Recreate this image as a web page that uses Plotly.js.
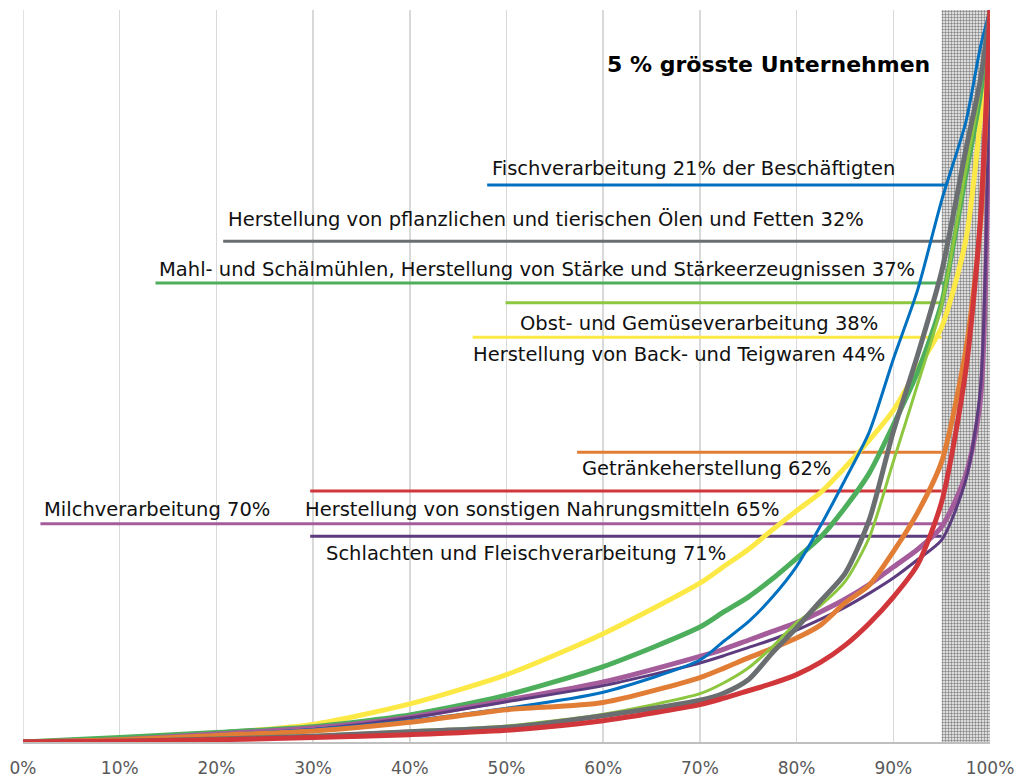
<!DOCTYPE html>
<html>
<head>
<meta charset="utf-8">
<script src="https://cdn.plot.ly/plotly-3.0.1.min.js"></script>
<style>
  html, body { margin: 0; padding: 0; background: #ffffff; }
  #chart { width: 1021px; height: 778px; }
</style>
</head>
<body>
<div id="chart"></div>
<script>
// ---------- DATA ----------
// cumulative share of firms (%), sorted from smallest to largest
const shareOfFirms = [0, 10, 20, 30, 40, 50, 60, 70, 72.5, 75, 77.5, 80, 82.5, 85, 87.5, 90, 92.5, 95, 97.5, 99, 100];

// cumulative share of employees (%) per branch
const fischverarbeitung = [0, 0.3, 1.0, 1.7, 2.9, 4.6, 6.8, 11.2, 13.8, 16.4, 19.8, 24.0, 29.6, 35.8, 42.3, 52.3, 61.7, 74.0, 84.7, 94.9, 100];
const oeleFette        = [0, 0.1, 0.4, 0.8, 1.4, 2.0, 3.6, 5.7, 6.7, 8.5, 12.2, 15.6, 19.3, 23.0, 30.3, 42.4, 52.8, 64.3, 80.9, 90.4, 100];
const mahlSchaelmuehlen = [0, 0.6, 1.3, 2.1, 3.7, 6.4, 10.3, 15.7, 17.8, 19.8, 22.3, 25.1, 28.0, 32.0, 36.7, 43.3, 50.5, 60.0, 77.5, 88.4, 100];
const obstGemuese      = [0, 0.2, 0.5, 0.9, 1.5, 2.2, 3.8, 6.6, 8.1, 10.1, 13.0, 16.3, 18.7, 21.9, 27.9, 38.3, 48.8, 59.7, 78.1, 89.3, 100];
const backTeigwaren    = [0, 0.4, 1.2, 2.4, 5.2, 9.2, 14.8, 21.7, 24.0, 26.3, 29.0, 31.6, 34.1, 37.5, 41.2, 45.3, 51.0, 56.7, 68.6, 85.0, 100];
const getraenke        = [0, 0.3, 0.9, 1.5, 2.7, 4.4, 5.4, 8.8, 10.1, 11.5, 12.8, 14.2, 16.0, 19.0, 21.4, 26.0, 31.3, 38.3, 53.6, 70.6, 100];
const sonstigeNahrung  = [0, 0.1, 0.3, 0.6, 1.0, 1.6, 2.9, 5.1, 6.0, 7.0, 8.0, 9.2, 10.9, 13.2, 16.2, 19.8, 24.2, 32.8, 50.8, 71.3, 100];
const milch            = [0, 0.3, 1.1, 1.9, 3.4, 5.7, 8.2, 11.7, 12.7, 13.9, 15.1, 16.3, 17.8, 19.5, 21.5, 23.9, 26.3, 29.4, 36.5, 46.7, 100];
const schlachten       = [0, 0.1, 0.9, 1.7, 3.3, 5.5, 7.7, 10.8, 11.8, 12.9, 14.0, 15.3, 16.8, 18.4, 20.3, 22.4, 24.9, 27.6, 35.8, 48.1, 100];

// branch names and employee share of the 5 % largest firms
const branchNames = [
  "Fischverarbeitung",
  "Herstellung von pflanzlichen und tierischen Ölen und Fetten",
  "Mahl- und Schälmühlen, Herstellung von Stärke und Stärkeerzeugnissen",
  "Obst- und Gemüseverarbeitung",
  "Herstellung von Back- und Teigwaren",
  "Getränkeherstellung",
  "Herstellung von sonstigen Nahrungsmitteln",
  "Milchverarbeitung",
  "Schlachten und Fleischverarbeitung"
];
const topShare = [21, 32, 37, 38, 44, 62, 65, 70, 71];
// level of each guide line (cumulative employee share, %)
const guideLevel = [76.1, 68.4, 62.7, 60.0, 55.3, 39.6, 34.3, 29.8, 28.1];
const labelSuffix = [" der Beschäftigten", "", "", "", "", "", "", "", ""];

// zone of the 5 % largest firms
const topZoneFrom = 95;
const topZoneTo = 100;
const zoneTitle = "5 % grösste Unternehmen";

const xTicks = [0, 10, 20, 30, 40, 50, 60, 70, 80, 90, 100];

// ---------- STYLE / LAYOUT ----------
const seriesList = [fischverarbeitung, oeleFette, mahlSchaelmuehlen, obstGemuese, backTeigwaren, getraenke, sonstigeNahrung, milch, schlachten];
const colors = ["#0070C0", "#6B6E70", "#4DAE5C", "#8DC63F", "#FDE945", "#E27D36", "#D0363A", "#A45C9B", "#5C3B7E"];
const widths = [3, 5, 5, 3, 5, 5, 5, 5, 3];
const drawOrder = [4, 2, 7, 8, 0, 5, 3, 1, 6];

// label placement
const guideStart = [48.0, 20.7, 13.7, 49.9, 46.5, 57.3, 29.7, 1.8, 29.7];
const guideEnd   = [95.4, 95.6, 95.6, 95.0, 95.0, 95.0, 95.0, 95.0, 95.0];
const labelX = [48.3, 21.0, 13.9, 51.2, 46.3, 57.6, 29.0, 2.0, 31.1];
const labelY = [78.4, 71.4, 64.6, 57.2, 52.9, 37.3, 31.8, 31.8, 25.8];

const FONT = "DejaVu Sans, Verdana, sans-serif";

const traces = [];
// hatched zone
traces.push({
  type: "bar",
  x: [(topZoneFrom + topZoneTo) / 2],
  y: [100],
  width: [topZoneTo - topZoneFrom],
  marker: {
    color: "#d8d8d8",
    line: { width: 0 },
    pattern: { shape: "+", fgcolor: "#555555", bgcolor: "#dcdcdc", size: 3, solidity: 0.25 }
  },
  hoverinfo: "skip",
  showlegend: false
});

// guide lines
for (let i = 0; i < branchNames.length; i++) {
  traces.push({
    type: "scatter",
    mode: "lines",
    x: [guideStart[i], guideEnd[i]],
    y: [guideLevel[i], guideLevel[i]],
    line: { color: colors[i], width: 3 },
    hoverinfo: "skip",
    showlegend: false
  });
}

// curves
for (const i of drawOrder) {
  traces.push({
    type: "scatter",
    mode: "lines",
    name: branchNames[i],
    x: shareOfFirms,
    y: seriesList[i],
    line: { color: colors[i], width: widths[i], shape: "spline", smoothing: 0.7 },
    hoverinfo: "skip",
    showlegend: false
  });
}

const annotations = branchNames.map((n, i) => ({
  xref: "x", yref: "y",
  x: labelX[i], y: labelY[i],
  xanchor: "left", yanchor: "middle",
  showarrow: false,
  text: n + " " + topShare[i] + "%" + labelSuffix[i],
  font: { family: FONT, size: 19.5, color: "#111111" }
}));
annotations.push({
  xref: "x", yref: "y",
  x: 60.2, y: 92.6,
  xanchor: "left", yanchor: "middle",
  showarrow: false,
  text: "<b>" + zoneTitle + "</b>",
  font: { family: FONT, size: 22, color: "#000000" }
});

const layout = {
  width: 1021,
  height: 778,
  margin: { l: 23, r: 31, t: 10, b: 36 },
  paper_bgcolor: "#ffffff",
  plot_bgcolor: "#ffffff",
  showlegend: false,
  xaxis: {
    range: [0, 100],
    tickvals: xTicks,
    ticktext: xTicks.map(v => v + "%"),
    showgrid: true,
    gridcolor: "#d9d9d9",
    gridwidth: 1.5,
    zeroline: false,
    showline: true,
    linecolor: "#bfbfbf",
    linewidth: 2,
    ticks: "",
    ticklabelstandoff: 10,
    tickfont: { family: FONT, size: 17, color: "#595959" },
    fixedrange: true
  },
  yaxis: {
    range: [0, 100],
    showgrid: false,
    zeroline: false,
    showline: false,
    showticklabels: false,
    ticks: "",
    fixedrange: true
  },
  shapes: [{
    type: "line", layer: "below",
    xref: "x", yref: "paper",
    x0: 0, x1: 0, y0: 0, y1: 1,
    line: { color: "#d9d9d9", width: 1.5 }
  }],
  annotations: annotations
};

Plotly.newPlot("chart", traces, layout, { staticPlot: true, displayModeBar: false });
</script>
</body>
</html>
